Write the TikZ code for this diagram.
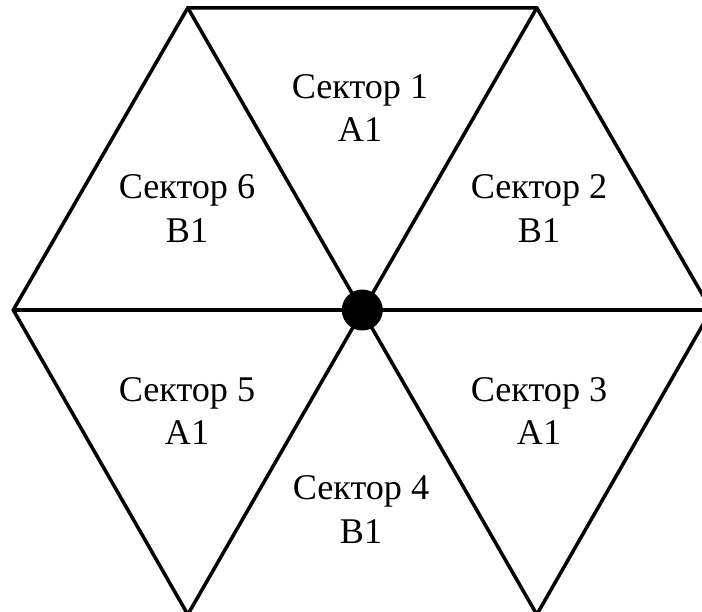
\documentclass[tikz,border=0pt]{standalone}
\usepackage{fontspec}
\setmainfont{Liberation Serif}

\begin{document}
\begin{tikzpicture}[x=0.02cm, y=-0.02cm, wire/.style={line width=2pt, line join=miter}, hub/.style={circle, fill=black, minimum size=0.82cm, inner sep=0pt}, sector/.style={align=center, font=\fontsize{20.6}{25}\selectfont, inner sep=0pt}]
    \useasboundingbox (0,0) rectangle (702,611);

    % Corners of the hexagon
    \coordinate (v0) at (711.3,310);
    \coordinate (v1) at (536.8,7.8);
    \coordinate (v2) at (187.8,7.8);
    \coordinate (v3) at (13.3,310);
    \coordinate (v4) at (187.8,614.5);
    \coordinate (v5) at (536.8,614.5);

    % Outline and diagonals
    \draw[wire] (v0) -- (v1) -- (v2) -- (v3) -- (v4) -- (v5) -- cycle;
    \draw[wire] (v0) -- (v3);
    \draw[wire] (v1) -- (v4);
    \draw[wire] (v2) -- (v5);

    % Centre
    \node[hub] (c) at (362.3,310) {};

    % Sectors
    \node[sector] (s1) at (360,108) {Сектор 1\\A1};
    \node[sector] (s2) at (539,209) {Сектор 2\\B1};
    \node[sector] (s3) at (539,411) {Сектор 3\\A1};
    \node[sector] (s4) at (361,510) {Сектор 4\\B1};
    \node[sector] (s5) at (187,411) {Сектор 5\\A1};
    \node[sector] (s6) at (187,209) {Сектор 6\\B1};
\end{tikzpicture}
\end{document}
